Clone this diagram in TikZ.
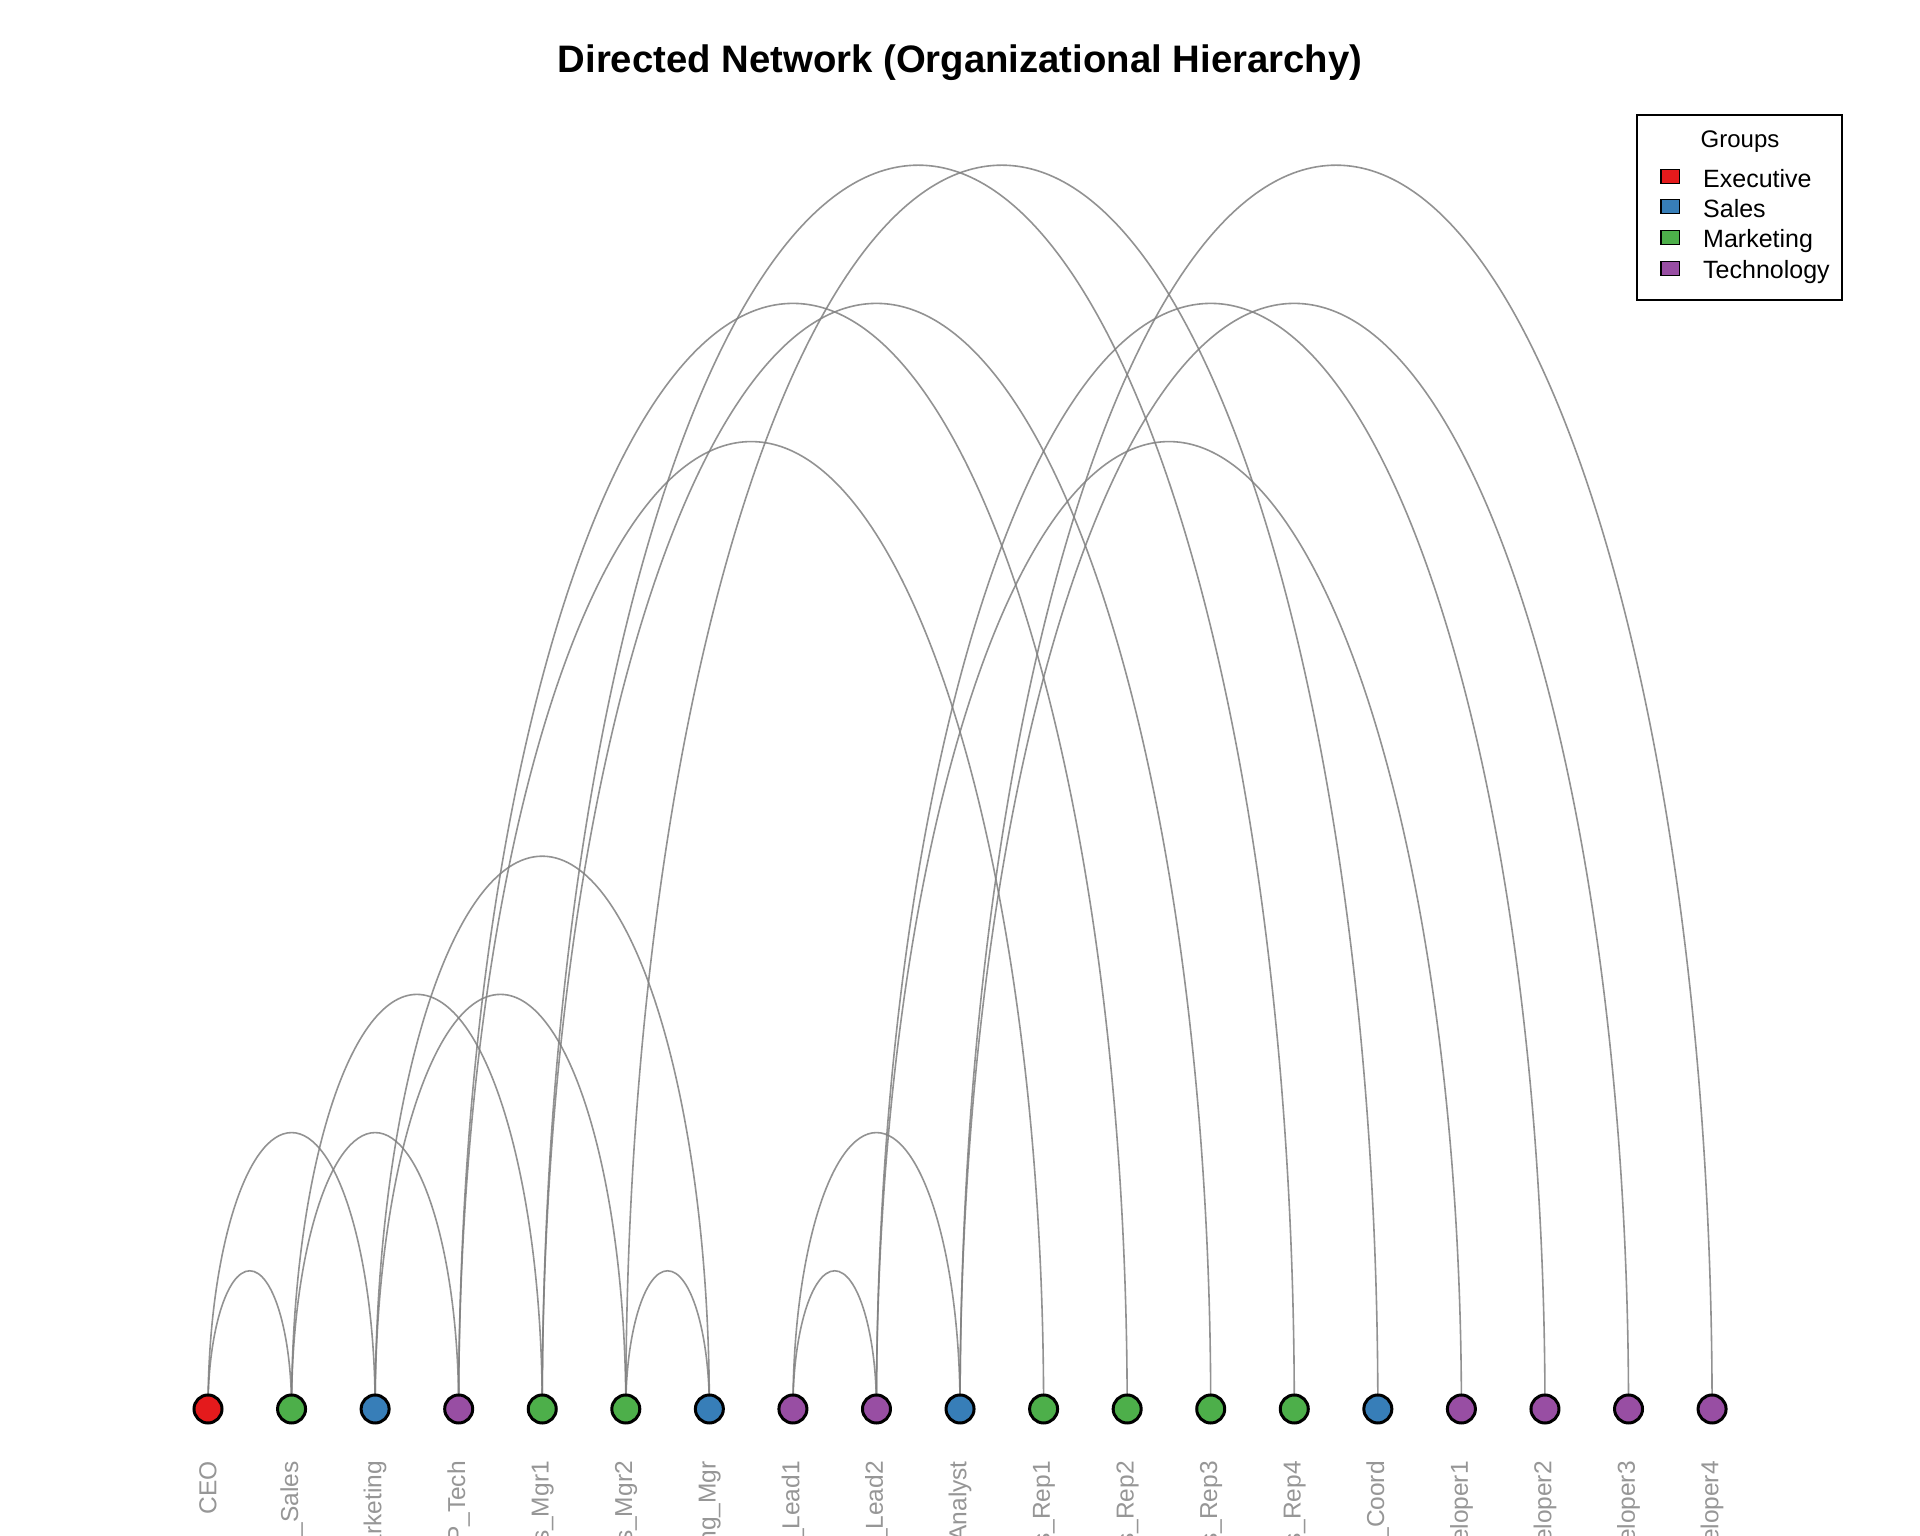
\documentclass[tikz,border=0pt]{standalone}
\usepackage{fontspec}
\setmainfont{Liberation Sans}
\definecolor{cExec}{HTML}{E41A1C}
\definecolor{cSales}{HTML}{377EB8}
\definecolor{cMkt}{HTML}{4DAF4A}
\definecolor{cTech}{HTML}{984EA3}
\definecolor{edgegray}{RGB}{128,128,128}
\definecolor{labgray}{RGB}{150,150,150}
\pgfdeclarelayer{background}
\pgfsetlayers{background,main}
\begin{document}
\begin{tikzpicture}[x=1pt,y=1pt,
  vert/.style={circle,draw=black,line width=3pt,minimum size=28pt,inner sep=0pt},
  lab/.style={rotate=90,anchor=east,text=labgray,font=\fontsize{24.5}{29}\selectfont,inner sep=0pt},
  arcedge/.style={draw=edgegray,line width=1.6pt,opacity=0.85},
  legsq/.style={rectangle,draw=black,line width=1.5pt,minimum width=18.5pt,minimum height=14pt,inner sep=0pt},
  legtxt/.style={anchor=base west,font=\fontsize{25}{29}\selectfont,inner sep=0pt}]
\useasboundingbox (0,0) rectangle (1920,1536);
% title
\node[anchor=base,font=\fontsize{38.3}{44}\selectfont\bfseries] (title) at (960,1463.5) {Directed Network (Organizational Hierarchy)};
% vertices and labels
\foreach \i/\nm/\col in {1/CEO/cExec,2/VP\_Sales/cMkt,3/VP\_Marketing/cSales,4/VP\_Tech/cTech,
  5/Sales\_Mgr1/cMkt,6/Sales\_Mgr2/cMkt,7/Marketing\_Mgr/cSales,8/Tech\_Lead1/cTech,
  9/Tech\_Lead2/cTech,10/Data\_Analyst/cSales,11/Sales\_Rep1/cMkt,12/Sales\_Rep2/cMkt,
  13/Sales\_Rep3/cMkt,14/Sales\_Rep4/cMkt,15/Marketing\_Coord/cSales,16/Developer1/cTech,
  17/Developer2/cTech,18/Developer3/cTech,19/Developer4/cTech}{
  \node[vert,fill=\col] (n\i) at ({208+(\i-1)*83.56},127) {};
  \node[lab] (l\i) at ({208+(\i-1)*83.56},75) {\nm};
}
% edges
\begin{pgfonlayer}{background}
\fill[white] (0,0) rectangle (1920,1536);
\foreach \a/\b in {1/2,1/3,2/4,2/5,3/6,3/7,6/7,4/11,4/12,5/13,5/14,6/15,8/9,8/10,9/16,9/17,10/18,10/19}{
  \draw[arcedge] (n\a.center) arc[start angle=180,end angle=0,x radius={(\b-\a)*41.78},y radius={(\b-\a)*138.2}];
}
\end{pgfonlayer}
% legend
\draw[line width=1.5pt] (1637,1236) rectangle (1842,1421);
\node[anchor=base,font=\fontsize{24}{28}\selectfont,inner sep=0pt] (legtitle) at (1740,1388.5) {Groups};
\foreach \j/\nm/\col/\yy/\bb in {1/Executive/cExec/1359.7/1348.5,2/Sales/cSales/1329.3/1318,3/Marketing/cMkt/1298.3/1288,4/Technology/cTech/1267.7/1257}{
  \node[legsq,fill=\col] (sq\j) at (1670,\yy) {};
  \node[legtxt] (lt\j) at (1703,\bb) {\nm};
}
\end{tikzpicture}
\end{document}
